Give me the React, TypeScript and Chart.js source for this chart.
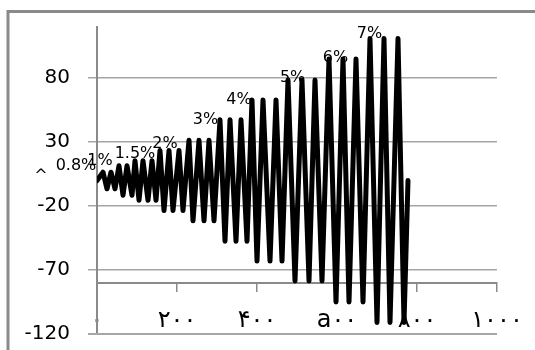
import { useEffect, useRef } from "react";
import { Chart, registerables } from "chart.js";

Chart.register(...registerables);

// Loading protocol: time (x) and load (y) at each turning point
const cycleTimes = [
  0, 15, 25, 35, 45, 55, 65, 75, 87.5, 95, 105, 115, 127.5, 137.5, 147.5, 157.5,
  167.5, 180, 190, 205, 215, 230, 240, 255, 267.5, 280, 292.5, 307.5, 320, 332.5,
  347.5, 360, 375, 387.5, 400, 415, 432.5, 447.5, 462.5, 477.5, 495, 512.5, 530,
  545, 562.5, 580, 597.5, 615, 630, 647.5, 665, 682.5, 700, 717.5, 732.5, 752.5,
  767.5, 777.5,
];
const cycleLoads = [
  0, 6.5, -6.5, 6.5, -6.5, 11.5, -11.5, 11.5, -11.5, 15.5, -15.5, 15.5, -15.5,
  15.5, -15.5, 23.5, -23.5, 23.5, -23.5, 23.5, -23.5, 31.5, -31.5, 31.5, -31.5,
  31.5, -31.5, 47.5, -47.5, 47.5, -47.5, 47.5, -47.5, 63, -63, 63, -63, 63, -63,
  78.5, -78.5, 78.5, -78.5, 78.5, -78.5, 95, -95, 95, -95, 95, -95, 111, -111,
  111, -111, 111, -111, 0,
];

const yTickValues = [-120, -70, -20, 30, 80];
const xTickValues = [0, 200, 400, 600, 800, 1000];
const xTickLabels = ["۰", "۲۰۰", "۴۰۰", "a۰۰", "۸۰۰", "۱۰۰۰"];

const driftLabels = ["^", "0.8%", "1%", "1.5%", "2%", "3%", "4%", "5%", "6%", "7%"];
const driftLabelTimes = [-140, -52.5, 7.5, 95, 170, 271, 355, 489, 596, 681];
const driftLabelLoads = [0.7, 8.1, 12, 17.5, 25.3, 44, 59.7, 76.9, 92.5, 111.25];

const frameColor = "#8a8a8a";
const gridColor = "#a6a6a6";

const decorPlugin = {
  id: "decor",
  beforeDraw(chart: any) {
    const ctx = chart.ctx;
    ctx.save();
    ctx.strokeStyle = frameColor;
    ctx.lineWidth = 3;
    ctx.beginPath();
    ctx.moveTo(8, 400);
    ctx.lineTo(8, 11.5);
    ctx.lineTo(600, 11.5);
    ctx.stroke();
    ctx.restore();
  },
  afterDatasetsDraw(chart: any) {
    const ctx = chart.ctx;
    const xs = chart.scales.x;
    const ys = chart.scales.y;
    ctx.save();
    ctx.fillStyle = "#000";
    ctx.font = '16px "DejaVu Sans"';
    ctx.textAlign = "center";
    ctx.textBaseline = "alphabetic";
    driftLabels.forEach((t, i) => {
      ctx.fillText(
        t,
        xs.getPixelForValue(driftLabelTimes[i]),
        ys.getPixelForValue(driftLabelLoads[i])
      );
    });
    ctx.restore();
  },
  afterDraw(chart: any) {
    // lowest grid line, on the chart-area edge
    const ctx = chart.ctx;
    const ys = chart.scales.y;
    const { left, right } = chart.chartArea;
    const yp = Math.round(ys.getPixelForValue(yTickValues[0]));
    ctx.save();
    ctx.strokeStyle = gridColor;
    ctx.lineWidth = 2;
    ctx.beginPath();
    ctx.moveTo(left - 9, yp);
    ctx.lineTo(right, yp);
    ctx.stroke();
    ctx.restore();
  },
};

export default function App() {
  const ref = useRef<HTMLCanvasElement | null>(null);
  useEffect(() => {
    if (!ref.current) return;
    const chart = new Chart(ref.current, {
      type: "line",
      data: {
        datasets: [
          {
            data: cycleTimes.map((t, i) => ({ x: t, y: cycleLoads[i] })),
            borderColor: "#000",
            borderWidth: 5,
            borderJoinStyle: "round",
            borderCapStyle: "round",
            pointRadius: 0,
            tension: 0,
            fill: false,
          },
        ],
      },
      options: {
        animation: false,
        responsive: false,
        maintainAspectRatio: false,
        layout: { padding: { top: 27, right: 38, bottom: 16, left: 0 } },
        plugins: { legend: { display: false }, tooltip: { enabled: false } },
        scales: {
          x: {
            type: "linear",
            min: 0,
            max: 1000,
            position: { y: -80 } as any,
            afterBuildTicks: (s: any) => {
              s.ticks = xTickValues.map((v) => ({ value: v }));
            },
            afterFit: (s: any) => {
              s.height = 16;
              s.paddingLeft = 0;
              s.paddingRight = 0;
              s.paddingTop = 0;
              s.paddingBottom = 0;
            },
            ticks: {
              autoSkip: false,
              maxRotation: 0,
              padding: 16,
              color: "#000",
              font: { family: "DejaVu Sans", size: 24 },
              callback: (v: any) => {
                const i = xTickValues.indexOf(Number(v));
                return i >= 0 ? xTickLabels[i] : "";
              },
            },
            grid: {
              drawOnChartArea: false,
              drawTicks: true,
              tickLength: 8,
              color: frameColor,
              lineWidth: 1.5,
            },
            border: { display: true, color: frameColor, width: 2 },
          },
          y: {
            type: "linear",
            min: -120,
            max: 120,
            afterBuildTicks: (s: any) => {
              s.ticks = yTickValues.map((v) => ({ value: v }));
            },
            afterFit: (s: any) => {
              s.width = 97;
              s.paddingTop = 0;
              s.paddingBottom = 0;
              s.paddingLeft = 0;
              s.paddingRight = 0;
            },
            ticks: {
              padding: 18,
              color: "#000",
              font: { family: "DejaVu Sans", size: 20 },
            },
            grid: {
              drawTicks: true,
              tickLength: 9,
              color: gridColor,
              lineWidth: 1.5,
            },
            border: { display: true, color: frameColor, width: 2 },
          },
        },
      },
      plugins: [decorPlugin],
    });
    return () => chart.destroy();
  }, []);
  return (
    <div style={{ position: "fixed", left: 0, top: 0, width: 535, height: 350, background: "#fff" }}>
      <canvas ref={ref} width={535} height={350} style={{ display: "block" }} />
    </div>
  );
}
